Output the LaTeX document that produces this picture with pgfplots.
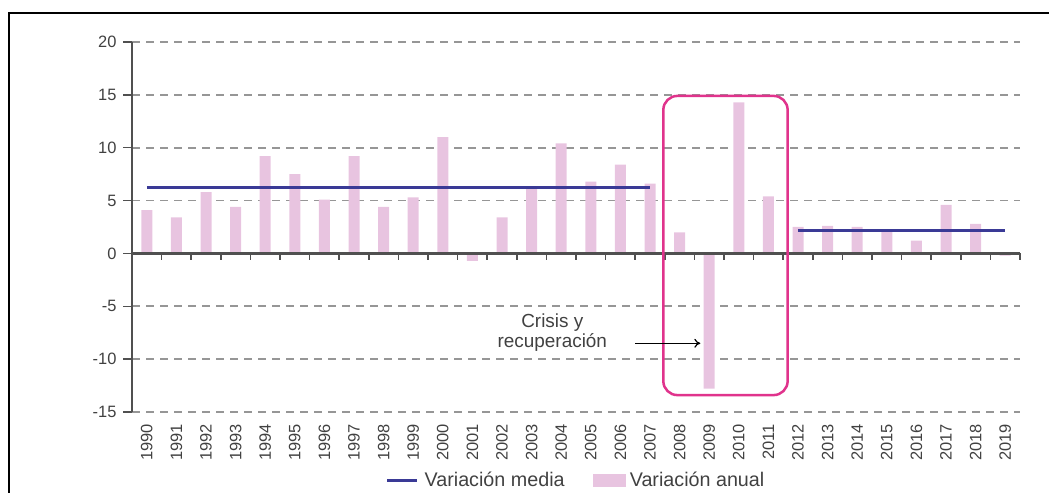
\documentclass[border=0pt]{standalone}
\usepackage{pgfplots}
\pgfplotsset{compat=1.18}
\usepackage{pgfplotstable}
\usetikzlibrary{arrows.meta}
\usepackage{fontspec}
\setmainfont{Liberation Sans}
\definecolor{barpink}{RGB}{232,196,224}
\definecolor{meanblue}{RGB}{58,58,150}
\definecolor{boxmag}{RGB}{224,51,140}
\definecolor{gridgray}{RGB}{150,150,150}
\definecolor{axgray}{RGB}{80,80,80}
\definecolor{txtgray}{RGB}{65,65,65}
\pgfplotsset{
  mylinelegend/.style={legend image code/.code={\draw[##1] (0bp,0bp) -- (30bp,0bp); \path (34bp,0bp);}},
  myboxlegend/.style={legend image code/.code={\fill[##1,draw=none] (0bp,-6.5bp) rectangle (33bp,6.5bp); \path (35bp,0bp);}},
}
\pgfplotstableread{
x val
0 4.1
1 3.4
2 5.8
3 4.4
4 9.2
5 7.5
6 5.1
7 9.2
8 4.4
9 5.3
10 11.0
11 -0.7
12 3.4
13 6.2
14 10.4
15 6.8
16 8.4
17 6.6
18 2.0
19 -12.8
20 14.3
21 5.4
22 2.5
23 2.6
24 2.5
25 2.2
26 1.2
27 4.6
28 2.8
29 -0.2
}\annual
\pgfplotstableread{
x val
0 6.22
17 6.22
}\meanA
\pgfplotstableread{
x val
22 2.2
29 2.2
}\meanB
\begin{document}
\begin{tikzpicture}
\useasboundingbox (0bp,0bp) rectangle (1049bp,493bp);
\draw[line width=2bp, black] (9bp,0bp) -- (9bp,480bp) -- (1049bp,480bp);
\begin{axis}[
  at={(132bp,81bp)}, anchor=south west,
  scale only axis, width=888bp, height=370bp,
  xmin=-0.5, xmax=29.5, ymin=-15, ymax=20,
  axis x line*=bottom, axis y line*=left,
  x axis line style={draw=none},
  y axis line style={axgray, line width=2bp},
  xtick={0,...,29},
  xticklabels={1990,1991,1992,1993,1994,1995,1996,1997,1998,1999,2000,2001,2002,2003,2004,2005,2006,2007,2008,2009,2010,2011,2012,2013,2014,2015,2016,2017,2018,2019},
  xtick style={draw=none},
  xticklabel style={rotate=90, anchor=east, font=\fontsize{16.5}{18}\selectfont, text=txtgray, inner sep=3bp},
  ytick={-15,-10,-5,0,5,10,15,20},
  yticklabels={-15,-10,-5,0,5,10,15,20},
  yticklabel style={font=\fontsize{16.5}{18}\selectfont, text=txtgray, xshift=-3bp},
  ytick style={axgray, line width=1.5bp},
  tick align=outside, major tick length=9bp,
  ymajorgrids,
  grid style={gridgray, line width=1.6bp, dash pattern=on 8bp off 6bp},
  clip=false,
  legend columns=-1,
  legend style={draw=none, fill=none, at={(0.5,0)}, anchor=center, yshift=-68bp,
    font=\fontsize{19.8}{22}\selectfont, text=txtgray,
    /tikz/every even column/.append style={column sep=26bp}},
]
\addlegendimage{mylinelegend, meanblue, line width=3bp}
\addlegendentry{Variación media}
\addlegendimage{myboxlegend, fill=barpink}
\addlegendentry{Variación anual}
\addplot[ybar, bar width=11bp, fill=barpink, draw=none, forget plot] table[x=x,y=val]{\annual};
\draw[axgray, line width=2.5bp] (axis cs:-0.5,0) -- (axis cs:29.5,0);
\pgfplotsinvokeforeach{-0.5,0.5,1.5,2.5,3.5,4.5,5.5,6.5,7.5,8.5,9.5,10.5,11.5,12.5,13.5,14.5,15.5,16.5,17.5,18.5,19.5,20.5,21.5,22.5,23.5,24.5,25.5,26.5,27.5,28.5,29.5}{
  \draw[axgray, line width=1.5bp] (axis cs:#1,0) -- ++(0bp,-7bp);
}
\addplot[meanblue, line width=3bp, forget plot] table[x=x,y=val]{\meanA};
\addplot[meanblue, line width=3bp, forget plot] table[x=x,y=val]{\meanB};
\draw[boxmag, line width=2.5bp, rounded corners=14bp] (axis cs:17.45,14.9) rectangle (axis cs:21.65,-13.4);
\draw[black, line width=1.2bp, -{To[length=6bp,width=9bp]}] (axis cs:16.5,-8.5) -- (axis cs:18.7,-8.5);
\node[align=center, font=\fontsize{19}{20}\selectfont, text=txtgray] at (axis cs:13.7,-7.45) {Crisis y\\recuperación};
\end{axis}
\end{tikzpicture}
\end{document}
